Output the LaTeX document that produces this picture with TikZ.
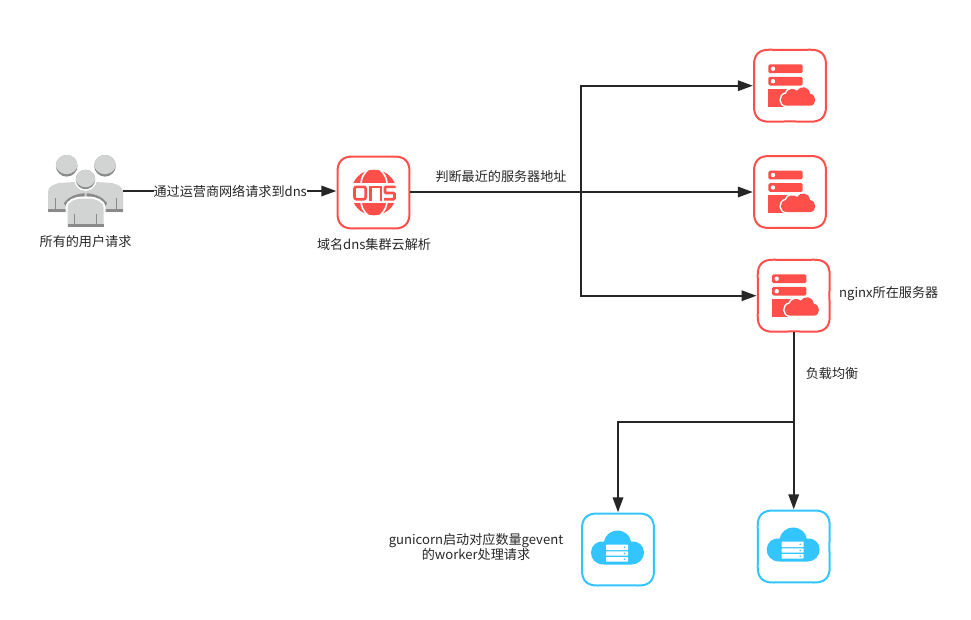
\documentclass[tikz,border=0pt]{standalone}
\usepackage{fontspec}
\setmainfont{Noto Sans CJK SC}
\usetikzlibrary{arrows.meta}
\definecolor{redc}{HTML}{FF4F4B}
\definecolor{bluec}{HTML}{33C5FF}
\definecolor{linec}{HTML}{262626}
\definecolor{ug}{HTML}{D2D3D3}
\definecolor{ud}{HTML}{8A8A8A}
\tikzset{
 conn/.style={draw=linec,line width=1.8pt},
 arr/.style={conn,-{Stealth[length=15pt,width=10.5pt,inset=0pt]},shorten >=1pt},
 lbl/.style={font=\fontsize{13.1pt}{15pt}\selectfont,text=linec,inner sep=0pt,align=center},
 anchorbox/.style={minimum width=72pt,minimum height=72pt,inner sep=0pt,draw=none},
}
\newcommand{\cardshape}[4]{%
 \node[anchorbox] (#1) at (#2,#3) {};
 \begin{scope}[shift={(#2,#3)}]
 \draw[#4,line width=2pt,fill=white,line join=round]
 (-36,-20) .. controls (-36.3,-31) and (-31,-36.3) .. (-20,-36)
 .. controls (-8,-35.7) and (8,-35.7) .. (20,-36)
 .. controls (31,-36.3) and (36.3,-31) .. (36,-20)
 .. controls (35.7,-8) and (35.7,8) .. (36,20)
 .. controls (36.3,31) and (31,36.3) .. (20,36)
 .. controls (8,35.7) and (-8,35.7) .. (-20,36)
 .. controls (-31,36.3) and (-36.3,31) .. (-36,20)
 .. controls (-35.7,8) and (-35.7,-8) .. (-36,-20) -- cycle;
 \end{scope}}
\newcommand{\servericon}[2]{%
 \begin{scope}[shift={(#1,#2)}]
 \fill[redc,rounded corners=1.5pt] (-21.7,-21.3) rectangle (12.7,-12.6);
 \fill[redc,rounded corners=1.5pt] (-21.7,-8.8) rectangle (12.7,-0.2);
 \fill[white] (-17,-17) circle (2.2);
 \fill[white] (-17,-4.5) circle (2.2);
 \fill[redc] (-21.7,3) -- (3,3) -- (3,21) -- (-21.7,21) -- cycle;
 \def\cloudpath{(-3,20) .. controls (-11,20) and (-11,9) .. (-4,8) .. controls (-3,3) and (4,2) .. (7,5) .. controls (10,0) and (19,0) .. (20,8) .. controls (27,9) and (27,20) .. (20,20) -- cycle}
 \draw[white,line width=3pt] \cloudpath;
 \fill[white] (-3,21.5) rectangle (6,23);
 \fill[redc] \cloudpath;
 \end{scope}}
\newcommand{\cloudicon}[2]{%
 \begin{scope}[shift={(#1,#2)}]
 \fill[bluec] (-14,15) .. controls (-23,15) and (-27,9) .. (-27,3)
 .. controls (-27,-4) and (-21,-9) .. (-14,-8)
 .. controls (-13,-15) and (-6,-19) .. (-1,-19)
 .. controls (7,-19) and (12,-14) .. (13,-8)
 .. controls (20,-9) and (26,-4) .. (26,3)
 .. controls (26,9) and (21,15) .. (14,15) -- cycle;
 \foreach \yt/\yb in {-5/0.5,1.8/6.2,7.5/12}{
 \fill[white,rounded corners=0.5pt] (-12,\yt) rectangle (10,\yb);
 \fill[bluec] (6.5,{(\yt+\yb)/2}) circle (0.9);
 }
 \end{scope}}
\newcommand{\headshape}[4]{% x y r shift
 \begin{scope}
 \fill[ud] (#1,#2) circle (#3);
 \clip (#1,#2) circle (#3);
 \fill[ug] (#1,#2-#4) circle (#3+0.6);
 \end{scope}}
\begin{document}
\begin{tikzpicture}[x=1pt,y=-1pt]
\useasboundingbox (0,0) rectangle (971,619);
% users: back pair
\fill[ug] (48,212) -- (48,192) .. controls (48,186) and (54,184.5) .. (59,183) -- (75,182) -- (96,182) -- (112,183) .. controls (117,184.5) and (123,186) .. (123,192) -- (123,212) -- cycle;
\fill[ud] (48,209) rectangle (123,212);
\fill[ud] (54.6,198) rectangle (55.5,209);
\fill[ud] (115.5,198) rectangle (116.4,209);
\headshape{66.7}{165.8}{10.8}{3}
\headshape{105}{165.8}{10.8}{3}
\fill[ud] (64,203) .. controls (68,197) and (76,193.8) .. (84.5,193.2) -- (84.5,196.5) .. controls (77,197) and (70,200) .. (65.5,206) -- cycle;
\fill[ud] (107,203) .. controls (103,197) and (95,193.8) .. (86.5,193.2) -- (86.5,196.5) .. controls (94,197) and (101,200) .. (105.5,206) -- cycle;
\fill[white] (85.5,179.5) circle (11.3);
% users: front person
\draw[white,line width=4pt,fill=white] (67.5,228) -- (67.5,208) .. controls (67.5,201) and (76,199) .. (81,198.5) -- (90,198.5) .. controls (95,199) and (103.5,201) .. (103.5,208) -- (103.5,228);
\fill[ug] (67.5,226.7) -- (67.5,208) .. controls (67.5,201) and (76,199) .. (81,198.5) -- (90,198.5) .. controls (95,199) and (103.5,201) .. (103.5,208) -- (103.5,226.7) -- cycle;
\fill[ud] (67.5,223.5) rectangle (103.5,226.7);
\fill[ud] (74,214) rectangle (74.9,223.5);
\fill[ud] (96.1,214) rectangle (97,223.5);
\headshape{85.5}{179.5}{9.7}{2.5}
\node[inner sep=0pt,minimum width=75pt,minimum height=72pt] (users) at (85.5,191) {};
\node[lbl] (userslbl) at (85.5,242) {所有的用户请求};
% cards
\cardshape{dns}{373.5}{192.5}{redc}
\cardshape{s1}{790}{85.7}{redc}
\cardshape{s2}{790}{192}{redc}
\cardshape{s3}{793.7}{295.7}{redc}
\cardshape{c1}{618}{549.5}{bluec}
\cardshape{c2}{793.7}{546.5}{bluec}
\servericon{790}{85.7}
\servericon{790}{192}
\servericon{793.7}{295.7}
\cloudicon{618}{549.5}
\cloudicon{793.7}{546.5}
% dns globe
\begin{scope}[shift={(374,192.5)}]
 \fill[redc] (0,0) circle (22.8);
 \draw[white,line width=1.6pt] (-6,-23) .. controls (-11,-18) and (-13,-14) .. (-13,-8);
 \draw[white,line width=1.6pt] (6,-23) .. controls (11,-18) and (13,-14) .. (13,-8);
 \draw[white,line width=1.6pt] (-6,23) .. controls (-11,18) and (-13,14) .. (-13,8);
 \draw[white,line width=1.6pt] (6,23) .. controls (11,18) and (13,14) .. (13,8);
 \fill[white] (-24,-9.5) rectangle (24,10.5);
 \draw[redc,line width=2.6pt,rounded corners=2pt] (-19.5,-5.7) rectangle (-8.3,6.7);
 \draw[redc,line width=2.6pt] (-3.8,8) -- (-3.8,-5.7) -- (7,-5.7) -- (7,8);
 \draw[redc,line width=2.6pt,line cap=butt,rounded corners=1pt] (21.5,-5.7) -- (11,-5.7) -- (11,0.5) -- (20.5,0.5) -- (20.5,6.7) -- (10,6.7);
\end{scope}
\node[lbl] (dnslbl) at (374,245) {域名dns集群云解析};
\node[lbl,anchor=west] (s3lbl) at (839,294) {nginx所在服务器};
\node[lbl] (c1lbl) at (476,547) {gunicorn启动对应数量gevent\\的worker处理请求};
% connectors
\coordinate (bx) at (581,192);
\coordinate (by) at (793.7,422);
\draw[arr] (users.east |- 0,191) -- node[lbl,fill=white,inner ysep=1pt,pos=0.5] (lab1) {通过运营商网络请求到dns} (dns.west |- 0,191);
\draw[conn] (dns.east |- bx) -- (bx);
\draw[arr] (bx) -- (s2.west |- bx);
\draw[arr] (bx) |- (s1.west);
\draw[arr] (bx) |- (s3.west);
\draw[arr] (s3.south) -- (c2.north);
\draw[arr] (by) -| (c1.north);
\node[lbl] (lab2) at (501,177) {判断最近的服务器地址};
\node[lbl] (lab3) at (832,374) {负载均衡};
\end{tikzpicture}
\end{document}
